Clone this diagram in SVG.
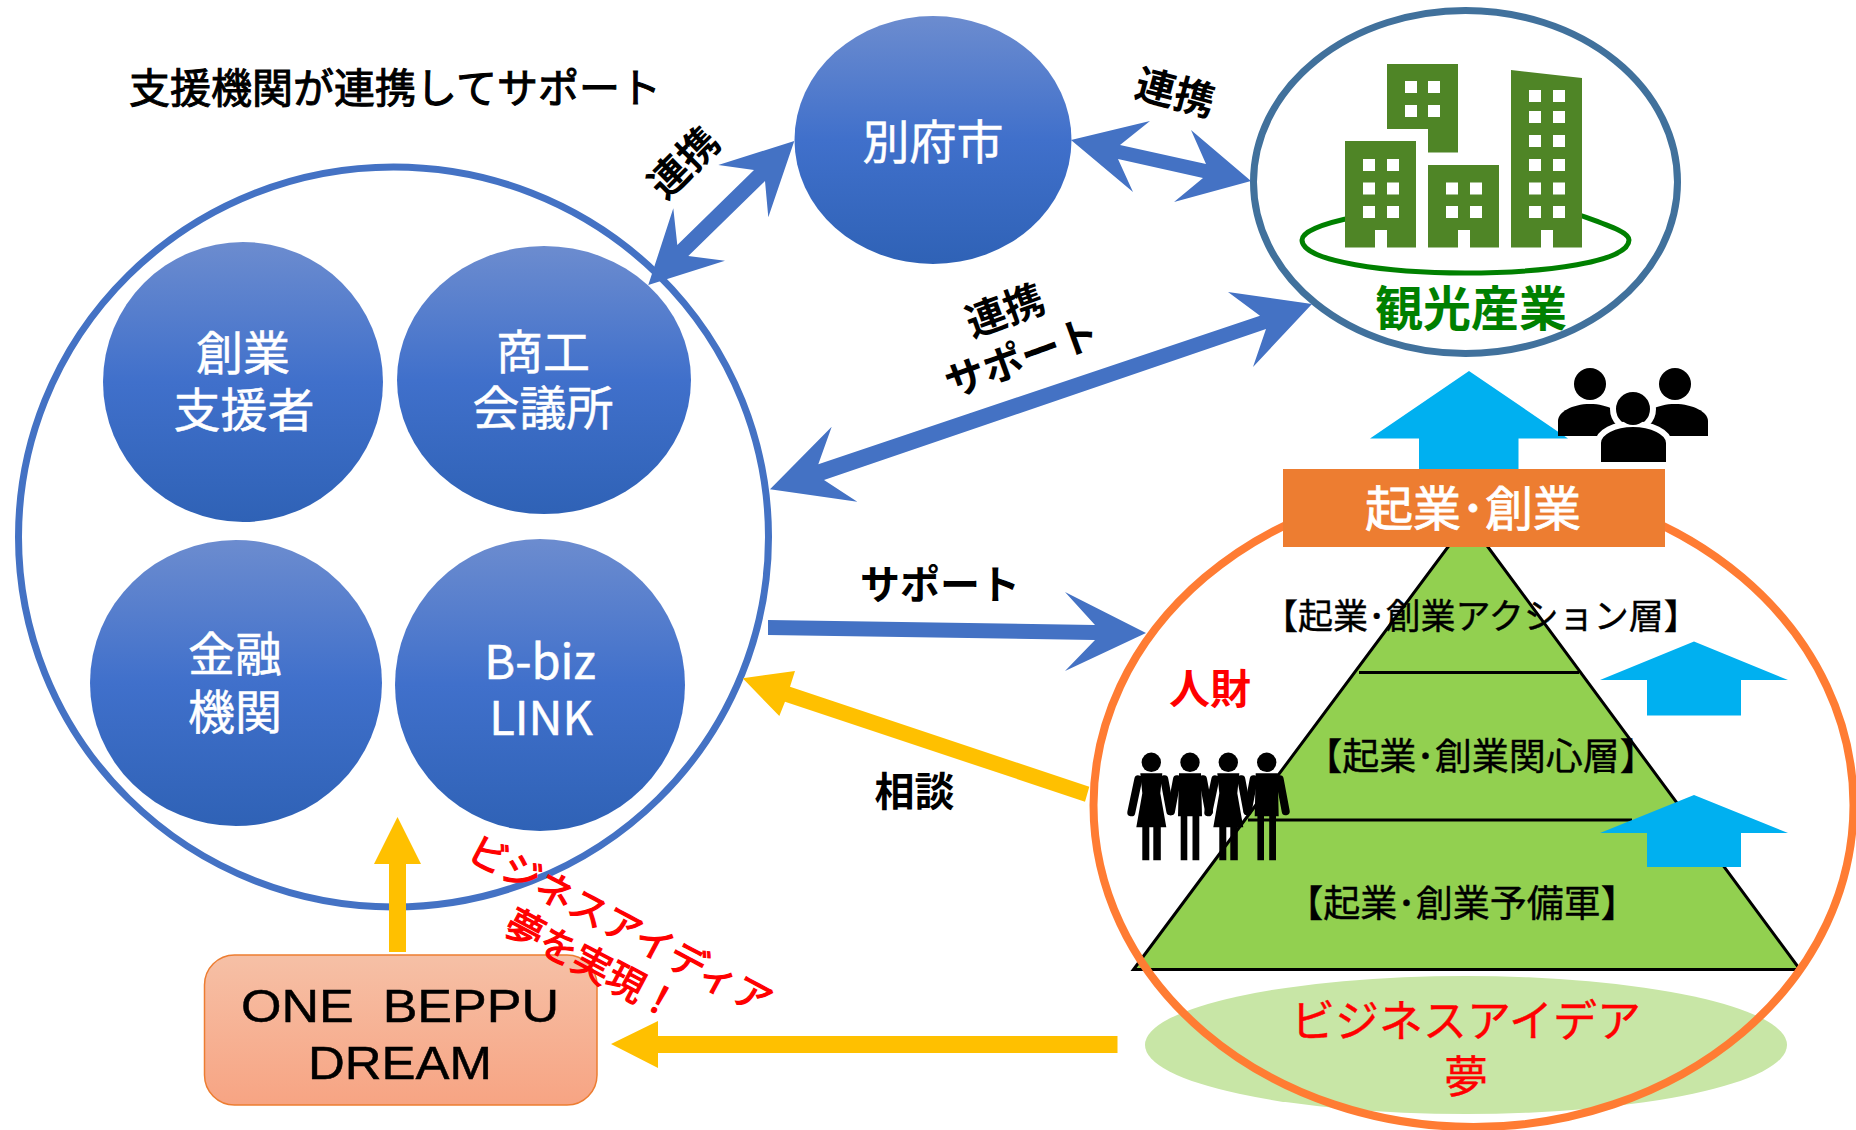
<svg xmlns="http://www.w3.org/2000/svg" width="1856" height="1130" viewBox="0 0 1856 1130">
<style>
text{font-family:"Noto Sans CJK JP","Liberation Sans",sans-serif;text-anchor:middle}
.w{fill:#fff;stroke:#fff;stroke-width:.5px;font-size:47px}
.k{fill:#000;font-weight:700;font-size:40px}
.p{fill:#000;stroke:#000;stroke-width:.4px;font-size:37px}
.r{fill:#f00}
.rb{fill:#f00;stroke:#f00;stroke-width:1.2px;font-size:38px}
.lat{font-family:"Liberation Sans",sans-serif;font-size:46px;stroke:#000;stroke-width:.5px}
.blue{fill:#4472c4}
.yel{fill:#ffc000}
.sky{fill:#00b0f0}
.bld{fill:#4f8526}
.win{fill:#fff}
.node{fill:url(#g)}
.arm{fill:none;stroke:#000;stroke-width:8;stroke-linecap:round;stroke-linejoin:round}
</style>
<defs>
<linearGradient id="g" x1="0" y1="0" x2="0" y2="1"><stop offset="0" stop-color="#6c8ccf"/><stop offset=".5" stop-color="#4070cb"/><stop offset="1" stop-color="#2f62b6"/></linearGradient>
<linearGradient id="o" x1="0" y1="0" x2="0" y2="1"><stop offset="0" stop-color="#f6c0a6"/><stop offset="1" stop-color="#f7a483"/></linearGradient>
<g id="man"><circle cx="0" cy="-11" r="9.700"/><path d="M-11 0H11L12 43H9.300V87H2.500V43H-2.700V87H-9.300V43H-12Z"/><path class="arm" d="M-13 6L-19 38M13 6L19 38"/></g>
<g id="woman"><circle cx="0" cy="-11" r="9.700"/><path d="M-11 0H11L9 20L15 54H9.500V87H2V54H-2V87H-9V54H-15L-9 20Z"/><path class="arm" d="M-13 6L-20 39M13 6L19 38"/></g>
</defs>

<g id="support-circle"><ellipse cx="393.500" cy="537" rx="375" ry="370" fill="#fff" stroke="#4472c4" stroke-width="7"/></g>
<g id="n-beppu"><ellipse class="node" cx="933" cy="140" rx="138.500" ry="124"/><text class="w" x="933" y="159">別府市</text></g>
<g id="n-sogyo"><ellipse class="node" cx="243" cy="382" rx="140" ry="140"/><text class="w" x="243" y="370">創業</text><text class="w" x="244" y="427">支援者</text></g>
<g id="n-shoko"><ellipse class="node" cx="544" cy="380" rx="147" ry="134"/><text class="w" x="543" y="369">商工</text><text class="w" x="543" y="425">会議所</text></g>
<g id="n-kinyu"><ellipse class="node" cx="236" cy="683" rx="146" ry="143"/><text class="w" x="235" y="671">金融</text><text class="w" x="235" y="729">機関</text></g>
<g id="n-bbiz"><ellipse class="node" cx="540" cy="685" rx="145" ry="146"/><text class="w" x="540" y="679">B-biz</text><text class="w" x="541" y="735">LINK</text></g>

<g id="n-tourism">
<ellipse cx="1465.500" cy="182" rx="212" ry="171.500" fill="#fff" stroke="#41719c" stroke-width="7"/>
<path d="M1355 217C1320 224 1302 232 1302 240C1302 262 1390 273 1465 273C1545 273 1629 262 1629 240C1629 232 1610 226 1577 214" fill="none" stroke="#008000" stroke-width="5"/>
<path class="bld" d="M1345 141H1416V247.500H1387V230H1375V247.500H1345Z"/>
<path class="bld" d="M1387 64H1458V152.500H1428V129H1387Z"/>
<path class="bld" d="M1428 165H1499V247.500H1470V230H1458V247.500H1428Z"/>
<path class="bld" d="M1511 70L1582 78V247.500H1553V230H1541V247.500H1511Z"/>
<path class="win" d="M1363 159h12v12h-12zM1387 159h12v12h-12zM1363 182.500h12v12h-12zM1387 182.500h12v12h-12zM1363 206h12v12h-12zM1387 206h12v12h-12zM1405 81h12v12h-12zM1428 81h12v12h-12zM1405 105h12v12h-12zM1428 105h12v12h-12zM1446 182.500h12v12h-12zM1470 182.500h12v12h-12zM1446 206h12v12h-12zM1470 206h12v12h-12zM1529 90h12v12h-12zM1553 90h12v12h-12zM1529 111h12v12h-12zM1553 111h12v12h-12zM1529 135h12v12h-12zM1553 135h12v12h-12zM1529 159h12v12h-12zM1553 159h12v12h-12zM1529 182.500h12v12h-12zM1553 182.500h12v12h-12zM1529 206h12v12h-12zM1553 206h12v12h-12z"/>
<text x="1471" y="326" fill="#008000" font-weight="700" font-size="48">観光産業</text>
</g>

<g id="n-startup-arrow"><path class="sky" d="M1469 371L1568 438.500H1518.500V475H1419V438.500H1370Z"/></g>
<g id="n-people">
<ellipse cx="1590" cy="384" rx="16" ry="16"/><ellipse cx="1675" cy="384" rx="16" ry="16"/>
<path d="M1558 436V421C1558 412 1572 404 1590 404C1608 404 1622 412 1622 421V436Z"/>
<path d="M1643 436V421C1643 412 1657 404 1675 404C1693 404 1708 412 1708 421V436Z"/>
<ellipse cx="1633" cy="409" rx="20" ry="20" fill="#000" stroke="#fff" stroke-width="6"/>
<path d="M1598 465V443C1598 432 1615 424 1633 424C1651 424 1669 432 1669 443V465Z" fill="#000" stroke="#fff" stroke-width="6"/>
<ellipse cx="1633" cy="409" rx="16" ry="16"/>
</g>

<g id="n-pyramid">
<ellipse cx="1466" cy="1045" rx="321" ry="69" fill="#c8e6a6"/>
<path d="M1468 520L1800 969.500H1133.500Z" fill="#92d050" stroke="#000" stroke-width="3"/>
<path d="M1359 672.500H1579M1248 820H1632" stroke="#000" stroke-width="3" fill="none"/>
<text class="p" x="1481" y="629" style="font-size:35px">【起業･創業アクション層】</text>
<text class="p" x="1481" y="770">【起業･創業関心層】</text>
<text class="p" x="1462" y="917">【起業･創業予備軍】</text>
<path class="sky" d="M1694 641.500L1788 680H1741V715.500H1647V680H1600Z"/>
<path class="sky" d="M1694 795L1788 833H1741V867H1647V833H1600Z"/>
</g>
<g id="n-ring"><ellipse cx="1473.500" cy="805" rx="380" ry="322" fill="none" stroke="#ff7c33" stroke-width="8"/></g>
<g id="n-startup"><rect x="1283" y="469" width="382" height="78" fill="#ed7d31"/><text x="1473" y="526" fill="#fff" stroke="#fff" stroke-width=".8" font-size="48">起業･創業</text></g>
<g id="n-talent">
<text class="r" x="1210" y="704" font-size="41" font-weight="700">人財</text>
<use href="#woman" x="1151.300" y="773.300"/><use href="#man" x="1190" y="773.300"/><use href="#woman" x="1228.300" y="773.300"/><use href="#man" x="1266.700" y="773.300"/>
</g>
<g id="n-idea"><text class="r" x="1466" y="1037" font-size="44" stroke="#f00" stroke-width=".4">ビジネスアイデア</text><text class="r" x="1466" y="1093" font-size="44" stroke="#f00" stroke-width=".4">夢</text></g>

<g id="n-dream"><rect x="204.500" y="955" width="392.500" height="150" rx="30" fill="url(#o)" stroke="#ed7d31" stroke-width="1.500"/>
<text class="lat" x="400" y="1022" textLength="318" lengthAdjust="spacingAndGlyphs" xml:space="preserve">ONE  BEPPU</text>
<text class="lat" x="400" y="1079" textLength="184" lengthAdjust="spacingAndGlyphs">DREAM</text></g>

<g id="connectors">
<path class="blue" d="M794.300 141L718.300 165L754 170L677.300 245L673.300 208.300L648.300 285L725 260.700L688.300 256L765 181L768.300 217.300Z"/>
<path class="blue" d="M1251 181L1191 130L1206 164L1120 145L1150 121L1071 140L1133 192L1118 159L1203 178L1174 202Z"/>
<path class="blue" d="M1312 304L1228 292L1260 315.700L818.300 464.300L831.700 426.700L770 489.300L857.300 501.700L824 480L1266 329L1253 367Z"/>
<path class="blue" d="M768 620L1095 625L1065 592L1146 633L1065 671L1095 640L768 635Z"/>
<path class="yel" d="M742.700 678.300L795 671L790 686.700L1089.300 786.700L1085 801.700L785 701.700L779.300 716Z"/>
<path class="yel" d="M397.500 817L421 864H406V952H389V864H374Z"/>
<path class="yel" d="M611 1044L658 1021V1036H1117.500V1053H658V1068Z"/>
</g>

<g id="labels">
<text x="395" y="103" font-size="41" stroke="#000" stroke-width="1">支援機関が連携してサポート</text>
<text class="k" transform="translate(684 163) rotate(-45)" y="14">連携</text>
<text class="k" transform="translate(1175 93) rotate(15)" y="14">連携</text>
<text class="k" transform="translate(1005 311) rotate(-20)" y="14">連携</text>
<text class="k" transform="translate(1022 358) rotate(-20)" y="14">サポート</text>
<text class="k" x="940" y="599">サポート</text>
<text class="k" x="914.500" y="806">相談</text>
<text class="rb" transform="translate(620 926) rotate(28)" y="13">ビジネスアイディア</text>
<text class="rb" transform="translate(592 965) rotate(28)" y="13">夢を実現！</text>
</g>
</svg>
